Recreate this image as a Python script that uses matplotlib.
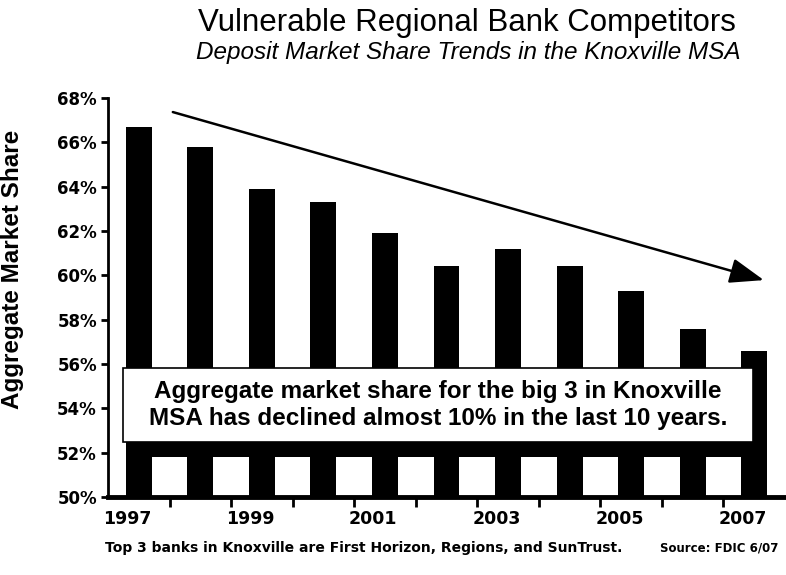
import numpy as np
import matplotlib
matplotlib.use("Agg")
import matplotlib.pyplot as plt
from matplotlib.patches import Rectangle, FancyArrowPatch

years = [1997, 1998, 1999, 2000, 2001, 2002, 2003, 2004, 2005, 2006, 2007]
share = [66.7, 65.8, 63.9, 63.3, 61.9, 60.4, 61.2, 60.4, 59.3, 57.6, 56.6]
yticks = [50, 52, 54, 56, 58, 60, 62, 64, 66, 68]
xlabels = ["1997", "1999", "2001", "2003", "2005", "2007"]

W, H = 786, 575
fig = plt.figure(figsize=(W / 100, H / 100), dpi=100)
fig.patch.set_facecolor("white")

# axes box in pixels: left 108, right 785, top 98, bottom 497
ax = fig.add_axes([108 / W, 1 - 497 / H, (785 - 108) / W, (497 - 98) / H])

x = np.arange(len(years))
ax.bar(x, share, width=0.42, bottom=0, color="black", zorder=2)
ax.set_xlim(-0.5, len(years) - 0.5)
ax.set_ylim(50, 68)

for s in ["top", "right"]:
    ax.spines[s].set_visible(False)
ax.spines["left"].set_linewidth(2.0)
ax.spines["bottom"].set_linewidth(3.5)

bold = dict(family="DejaVu Sans", weight="bold", size=12)
ax.set_yticks(yticks)
ax.set_yticklabels([f"{v}%" for v in yticks], fontdict=bold)
ax.tick_params(axis="y", direction="out", length=5, width=2, pad=3)

# labels every other year, sitting a bit left of the bar centre
lab_pos = [years.index(int(l)) - 0.19 for l in xlabels]
ax.set_xticks(lab_pos)
ax.set_xticklabels(xlabels, fontdict=dict(family="DejaVu Sans", weight="bold", size=12.5))
ax.tick_params(axis="x", length=0, pad=9)
ax.set_xticks(np.arange(0.5, len(years) - 1, 1.0), minor=True)
ax.tick_params(axis="x", which="minor", direction="out", length=7, width=2)

ax.set_ylabel("Aggregate Market Share", family="Liberation Sans", weight="bold", size=17.5)
ax.yaxis.set_label_coords(-84 / (785 - 108), 0.57)

# trend arrow
arrow = FancyArrowPatch((0.51, 67.4), (10.2, 59.75), arrowstyle="-|>,head_length=1.5,head_width=0.55",
                        mutation_scale=14, color="black", lw=1.8, zorder=4)
ax.add_patch(arrow)

# callout box with black drop shadow
ax.add_patch(Rectangle((-0.03, 51.8), 10.24, 3.4, facecolor="black", edgecolor="none", zorder=5))
ax.add_patch(Rectangle((-0.26, 52.47), 10.24, 3.33, facecolor="white", edgecolor="black", lw=1.2, zorder=6))
ax.text(4.86, 54.15, "Aggregate market share for the big 3 in Knoxville\nMSA has declined almost 10% in the last 10 years.",
        ha="center", va="center", family="Liberation Sans", weight="bold", size=17.5,
        linespacing=1.2, zorder=7)

fig.text(467 / W, 1 - 23 / H, "Vulnerable Regional Bank Competitors", ha="center", va="center",
         family="Liberation Sans", size=22.5)
fig.text(740 / W, 1 - 53 / H, "Deposit Market Share Trends in the Knoxville MSA", ha="right", va="center",
         family="Liberation Sans", style="italic", size=17.5)
fig.text(105 / W, 1 - 548 / H, "Top 3 banks in Knoxville are First Horizon, Regions, and SunTrust.",
         ha="left", va="center", family="DejaVu Sans", weight="bold", size=10)
fig.text(778 / W, 1 - 548 / H, "Source: FDIC 6/07", ha="right", va="center",
         family="DejaVu Sans", weight="bold", size=8.5)

plt.savefig("out.png", dpi=100, facecolor="white")
